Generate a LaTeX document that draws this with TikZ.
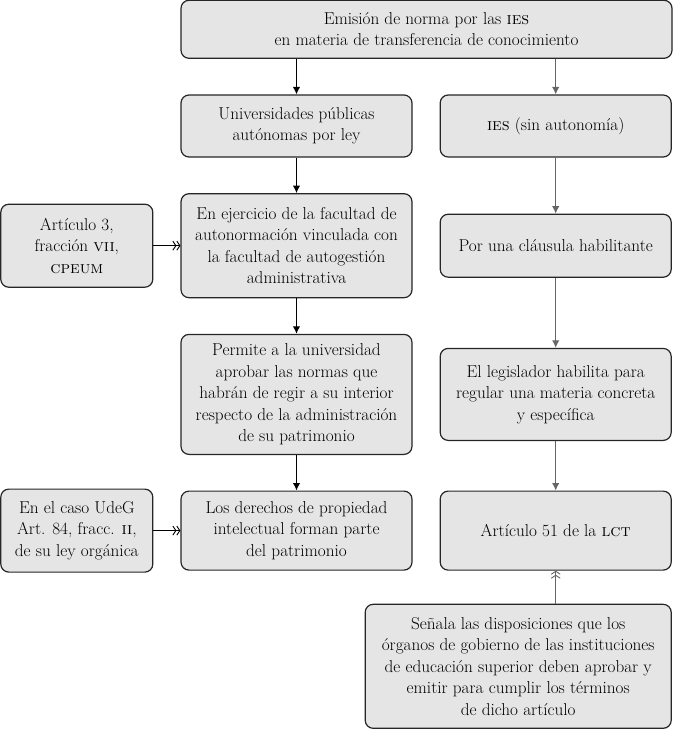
\documentclass[tikz,border=0pt]{standalone}
\usetikzlibrary{arrows.meta, positioning}

\begin{document}
\begin{tikzpicture}[font=\fontsize{17.2}{21.5}\selectfont,node distance=35.5pt,line width=1.2pt]

		\tikzset{node box/.style={draw=black!85,
				fill=gray!20,
				rounded corners=8pt,
				align=center,
				inner sep=2pt,
				minimum width=231pt}}
		\tikzset{node side/.style={node box, minimum width=152pt}}
		\tikzset{arr dark/.style={-{Latex[length=7.5pt,width=7.5pt]}, draw=black}}
		\tikzset{arr light/.style={-{Latex[length=7.5pt,width=7.5pt]}, draw=black!60}}
		\tikzset{arr dbl/.style={-{Straight Barb[length=3pt,width=9pt]Straight Barb[length=3pt,width=9pt]}, line width=0.9pt}}

	\path[use as bounding box] (0,0) rectangle (675pt,-729pt);

	\node[node box, minimum height=62pt] at (296.5pt,-126pt) (univ) {Universidades públicas\\ autónomas por ley};
	\node[node box, minimum height=104pt, below=of univ] (ejer) {En ejercicio de la facultad de\\ autonormación vinculada con\\ la facultad de autogestión\\ administrativa};
	\node[node box, minimum height=120pt, below=of ejer] (perm) {Permite a la universidad\\ aprobar las normas que\\ habrán de regir a su interior\\ respecto de la administración\\ de su patrimonio};
	\node[node box, minimum height=79pt, below=of perm] (der) {Los derechos de propiedad\\ intelectual forman parte\\ del patrimonio};

	\node[node box, minimum width=491pt, minimum height=58pt, above=of univ.north west, anchor=south west] (emis) {Emisión de norma por las \textsc{ies}\\ en materia de transferencia de conocimiento};

	\node[node box, minimum height=62pt, right=27pt of univ] (ies) {\textsc{ies} (sin autonomía)};
	\node[node box, minimum height=63pt, below=56pt of ies] (claus) {Por una cláusula habilitante};
	\node[node box, minimum height=92pt, below=70pt of claus] (legis) {El legislador habilita para\\ regular una materia concreta\\ y específica};
	\node[node box, minimum height=79pt, right=27pt of der] (art51) {Artículo 51 de la \textsc{lct}};
	\node[node box, minimum width=306pt, minimum height=124pt, below=33pt of art51.south east, anchor=north east] (sen) {Señala las disposiciones que los\\ órganos de gobierno de las instituciones\\ de educación superior deben aprobar y\\ emitir para cumplir los términos\\ de dicho artículo};

	\node[node side, minimum height=83pt, left=27pt of ejer] (art3) {Artículo 3,\\ fracción \textsc{vii},\\ \textsc{cpeum}};
	\node[node side, minimum height=83pt, left=27pt of der] (udeg) {En el caso UdeG\\ Art. 84, fracc. \textsc{ii},\\ de su ley orgánica};

	\path
	(univ |- emis.south) edge[arr dark] (univ)
	(univ) edge[arr dark] (ejer)
	(ejer) edge[arr dark] (perm)
	(perm) edge[arr dark] (der)
	(ies |- emis.south) edge[arr light] (ies)
	(ies) edge[arr light] (claus)
	(claus) edge[arr light] (legis)
	(legis) edge[arr light] (art51)
	(art3) edge[arr dbl, draw=black] (ejer)
	(udeg) edge[arr dbl, draw=black] (der)
	(art51 |- sen.north) edge[arr dbl, draw=black!60] (art51);
	\end{tikzpicture}
\end{document}
